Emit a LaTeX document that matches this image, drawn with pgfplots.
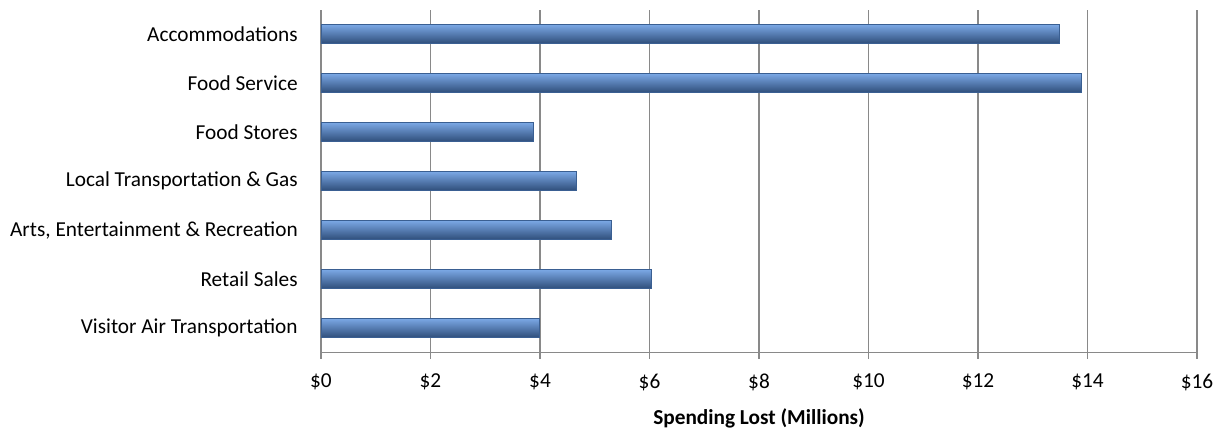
\documentclass[border=0pt]{standalone}
\usepackage{pgfplots}
\pgfplotsset{compat=1.18}
\usepackage{fontspec}
\setmainfont{Carlito}
\definecolor{gridgray}{HTML}{898989}
\definecolor{bartop}{HTML}{7AA7E4}
\definecolor{barmid}{HTML}{5587CC}
\definecolor{barbot}{HTML}{2E4D79}
\definecolor{baredge}{HTML}{3A5F92}
\pgfplotsset{mybar/.style={xbar, bar shift=0pt, bar width=19pt,
    draw=baredge, line width=0.6pt, mark=none,
    shade, top color=bartop, middle color=barmid, bottom color=barbot}}
\begin{document}
\begin{tikzpicture}
\fontsize{21.3}{25}\selectfont
\begin{axis}[
  name=ax,
  at={(0,0)}, anchor=south west,
  scale only axis,
  width=876pt, height=343pt,
  xmin=0, xmax=16, ymin=-0.5, ymax=6.5,
  axis lines*=left,
  axis line style={gridgray, line width=1.3pt},
  xtick={0,2,...,16},
  xticklabels={\$0,\$2,\$4,\$6,\$8,\$10,\$12,\$14,\$16},
  ytick={0,...,6},
  yticklabels={Visitor Air Transportation,Retail Sales,{Arts, Entertainment \& Recreation},Local Transportation \& Gas,Food Stores,Food Service,Accommodations},
  minor ytick={-0.5,0.5,...,6.5},
  tick align=outside,
  major tick length=6pt,
  minor tick length=6pt,
  tick style={gridgray, line width=1.3pt},
  ytick style={draw=none},
  minor tick style={gridgray, line width=1.3pt},
  xmajorgrids,
  major grid style={gridgray, line width=1.3pt},
  minor y grid style={draw=none},
  ticklabel style={font=\fontsize{21.3}{25}\selectfont, text=black},
  yticklabel style={xshift=-10pt},
  xticklabel style={yshift=-8pt},
  xlabel={\textbf{Spending Lost (Millions)}},
  xlabel style={font=\fontsize{21.3}{25}\selectfont, yshift=-3pt},
  clip=false,
]
\addplot[mybar] coordinates {(3.99,0)};
\addplot[mybar] coordinates {(6.03,1)};
\addplot[mybar] coordinates {(5.30,2)};
\addplot[mybar] coordinates {(4.66,3)};
\addplot[mybar] coordinates {(3.88,4)};
\addplot[mybar] coordinates {(13.88,5)};
\addplot[mybar] coordinates {(13.48,6)};
\end{axis}
\pgfresetboundingbox
\path (ax.south west) ++(-321pt,-75.3pt) rectangle ++(1221pt,428pt);
\end{tikzpicture}
\end{document}
